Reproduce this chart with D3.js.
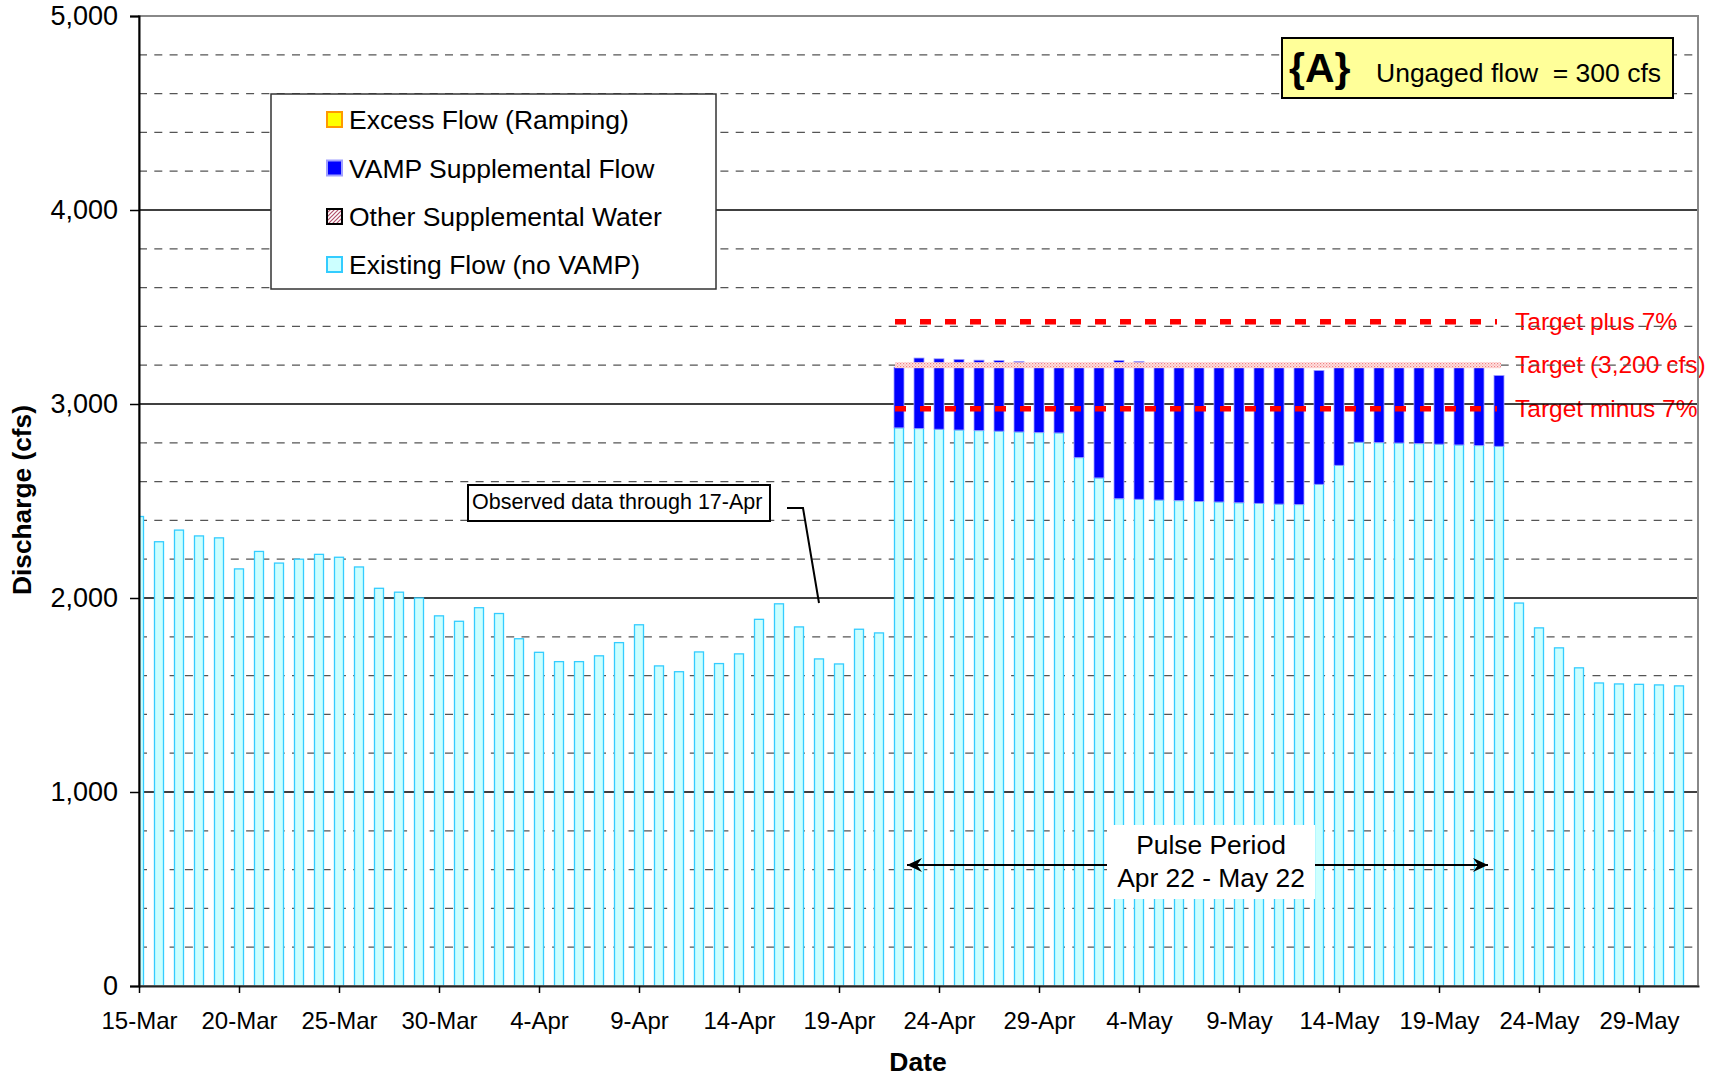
<!DOCTYPE html>
<html><head><meta charset="utf-8">
<script src="https://cdn.jsdelivr.net/npm/d3@7"></script>
<style>
html,body{margin:0;padding:0;background:#fff;}
svg{display:block;font-family:"Liberation Sans",Arial,Helvetica,sans-serif;}
</style></head><body>
<svg id="chart" width="1714" height="1077"></svg>
<script>
// ---------------- DATA ----------------
const startDay = "15-Mar-2008";
const endDay = "1-Jun-2008";
const tickLabels = ["15-Mar","20-Mar","25-Mar","30-Mar","4-Apr","9-Apr","14-Apr","19-Apr",
  "24-Apr","29-Apr","4-May","9-May","14-May","19-May","24-May","29-May"];
const yTicks = [0, 1000, 2000, 3000, 4000, 5000];

// Existing Flow (no VAMP), one value per day from 15-Mar to 31-May
const existingFlow = [
  2420, 2290, 2350, 2320, 2310, 2150, 2240, 2180, 2200, 2225,
  2210, 2160, 2050, 2030, 2000, 1908, 1880, 1950, 1920, 1790,
  1720, 1672, 1672, 1702, 1770, 1862, 1650, 1620, 1722, 1662,
  1712, 1890, 1970, 1851, 1686, 1660, 1839, 1820, 2877, 2874,
  2870, 2866, 2863, 2860, 2856, 2853, 2851, 2724, 2619, 2512,
  2509, 2505, 2502, 2498, 2495, 2491, 2488, 2484, 2482, 2586,
  2684, 2803, 2801, 2799, 2796, 2793, 2789, 2786, 2782, 1974,
  1846, 1743, 1640, 1562, 1557, 1555, 1552, 1547
];
// VAMP Supplemental Flow, pulse period 22-Apr .. 22-May
const pulseStart = "22-Apr-2008";
const pulseEnd = "22-May-2008";
const vampFlow = [
  313, 363, 363, 364, 363, 364, 363, 359, 349, 476,
  581, 712, 710, 707, 698, 702, 705, 709, 712, 716,
  718, 587, 516, 397, 399, 401, 404, 407, 411, 414,
  365
];
const seriesNames = ["Excess Flow (Ramping)", "VAMP Supplemental Flow", "Other Supplemental Water", "Existing Flow (no VAMP)"];
const targetFlow = 3200;
const targetPlus = 3424;
const targetMinus = 2976;
const targetLabels = ["Target plus 7%", "Target (3,200 cfs)", "Target minus 7%"];

// ---------------- CHART ----------------
const svg = d3.select("#chart");
const L = 139, R = 1698, T = 16, B = 986;
const parse = d3.timeParse("%d-%b-%Y");
const d0 = parse(startDay), d1 = parse(endDay);
const x = d3.scaleTime().domain([d0, d1]).range([L, R + 1]);
const y = d3.scaleLinear().domain([0, 5000]).range([B, T]);

const defs = svg.append("defs");
defs.append("clipPath").attr("id", "plotclip").append("rect")
  .attr("x", L).attr("y", T).attr("width", R - L).attr("height", B - T);
const pat = defs.append("pattern").attr("id", "pinkhatch").attr("patternUnits", "userSpaceOnUse")
  .attr("width", 3).attr("height", 3);
pat.append("rect").attr("width", 3).attr("height", 3).attr("fill", "#FFE4E4");
pat.append("rect").attr("x", 0).attr("y", 0).attr("width", 1.2).attr("height", 1.2).attr("fill", "#F08080");
pat.append("rect").attr("x", 1.5).attr("y", 1.5).attr("width", 1.2).attr("height", 1.2).attr("fill", "#F4A0A0");
const pat2 = defs.append("pattern").attr("id", "diaghatch").attr("patternUnits", "userSpaceOnUse")
  .attr("width", 4).attr("height", 4);
pat2.append("rect").attr("width", 4).attr("height", 4).attr("fill", "#fff");
pat2.append("path").attr("d", "M-1,1 L1,-1 M0,4 L4,0 M3,5 L5,3").attr("stroke", "#B0506A").attr("stroke-width", 1.2);
const mk = defs.append("marker").attr("id", "arrowhead").attr("viewBox", "-16 -8 17 16")
  .attr("refX", 0).attr("refY", 0).attr("markerWidth", 17).attr("markerHeight", 16)
  .attr("markerUnits", "userSpaceOnUse").attr("orient", "auto");
mk.append("path").attr("d", "M0,0 L-15,-7 L-10,0 L-15,7 Z").attr("fill", "#000");

// target labels (drawn under gridlines)
const tl = svg.append("g").attr("fill", "#FF0000").attr("font-size", 24.5);
[targetPlus, targetFlow, targetMinus].forEach((v, i) => {
  tl.append("text").attr("x", 1515).attr("y", y(v) + 8).text(targetLabels[i]);
});

// gridlines
const grid = svg.append("g");
d3.range(200, 5001, 200).forEach(v => {
  const major = v % 1000 === 0;
  grid.append("line").attr("x1", L).attr("x2", R).attr("y1", y(v)).attr("y2", y(v))
    .attr("stroke", major ? "#000" : "#555").attr("stroke-width", 1.3)
    .attr("stroke-dasharray", major ? null : "8,7.3");
});

// bars
const bw = 9;
const days = existingFlow.map((v, i) => ({ date: d3.timeDay.offset(d0, i), existing: v }));
const pStart = parse(pulseStart);
const pulse = vampFlow.map((v, i) => {
  const dt = d3.timeDay.offset(pStart, i);
  const idx = d3.timeDay.count(d0, dt);
  return { date: dt, base: existingFlow[idx], vamp: v };
});
const bars = svg.append("g").attr("clip-path", "url(#plotclip)");
bars.selectAll("rect.exist").data(days).join("rect").attr("class", "exist")
  .attr("x", d => x(d.date) - bw / 2).attr("width", bw)
  .attr("y", d => y(d.existing)).attr("height", d => y(0) - y(d.existing))
  .attr("fill", "#CCFFFF").attr("stroke", "#33CCFF").attr("stroke-width", 1.3);
bars.selectAll("rect.vamp").data(pulse).join("rect").attr("class", "vamp")
  .attr("x", d => x(d.date) - bw / 2 - 0.5).attr("width", bw + 1)
  .attr("y", d => y(d.base + d.vamp)).attr("height", d => y(d.base) - y(d.base + d.vamp))
  .attr("fill", "#0000FF").attr("stroke", "#A0A0FF").attr("stroke-width", 0.8);

// target band & lines
const xs = x(pStart) - 4, xe = x(parse(pulseEnd)) + 2;
svg.append("rect").attr("x", xs).attr("width", xe - xs).attr("y", y(targetFlow) - 3).attr("height", 6)
  .attr("fill", "url(#pinkhatch)");
[targetPlus, targetMinus].forEach(v => {
  svg.append("line").attr("x1", xs).attr("x2", xe - 4).attr("y1", y(v)).attr("y2", y(v))
    .attr("stroke", "#FF0000").attr("stroke-width", 5.5).attr("stroke-dasharray", "11,14");
});

// plot border
svg.append("rect").attr("x", L).attr("y", T).attr("width", R - L).attr("height", B - T)
  .attr("fill", "none").attr("stroke", "#888").attr("stroke-width", 2);

// axes
const yAxis = d3.axisLeft(y).tickValues(yTicks).tickFormat(d3.format(",")).tickSize(9).tickPadding(12);
const gy = svg.append("g").attr("transform", `translate(${L},0)`).call(yAxis);
gy.select(".domain").attr("stroke", "#000").attr("stroke-width", 2);
gy.selectAll(".tick line").attr("stroke", "#000").attr("stroke-width", 1.5);
gy.selectAll(".tick text").attr("font-size", 27).attr("fill", "#000")
  .attr("font-family", '"Liberation Sans",Arial,sans-serif');

const tickDates = tickLabels.map(s => parse(s + "-2008"));
const xAxis = d3.axisBottom(x).tickValues(tickDates).tickFormat(d3.timeFormat("%-d-%b")).tickSize(7).tickPadding(19).tickSizeOuter(0);
const gx = svg.append("g").attr("transform", `translate(0,${B})`).call(xAxis);
gx.select(".domain").attr("stroke", "#222").attr("stroke-width", 2);
gx.selectAll(".tick line").attr("stroke", "#000").attr("stroke-width", 1.5);
gx.selectAll(".tick text").attr("font-size", 24).attr("fill", "#000")
  .attr("font-family", '"Liberation Sans",Arial,sans-serif');

// axis titles
svg.append("text").attr("transform", "translate(31,500) rotate(-90)").attr("text-anchor", "middle")
  .attr("font-weight", "bold").attr("font-size", 26.3).text("Discharge (cfs)");
svg.append("text").attr("x", 918).attr("y", 1071).attr("text-anchor", "middle")
  .attr("font-weight", "bold").attr("font-size", 26.5).text("Date");

// legend
const lg = svg.append("g");
lg.append("rect").attr("x", 271).attr("y", 94).attr("width", 445).attr("height", 195)
  .attr("fill", "#fff").attr("stroke", "#333").attr("stroke-width", 1.5);
const legStyles = [
  { fill: "#FFFF00", stroke: "#FF9900" },
  { fill: "#0000FF", stroke: "#A0A0FF" },
  { fill: "url(#diaghatch)", stroke: "#000" },
  { fill: "#CCFFFF", stroke: "#33CCFF" }
];
const rowY = [120, 168.5, 217, 265];
seriesNames.forEach((n, i) => {
  lg.append("rect").attr("x", 327).attr("y", rowY[i] - 8).attr("width", 15).attr("height", 15)
    .attr("fill", legStyles[i].fill).attr("stroke", legStyles[i].stroke).attr("stroke-width", 2);
  lg.append("text").attr("x", 349).attr("y", rowY[i] + 9).attr("font-size", 26.5).text(n);
});

// {A} box
const ab = svg.append("g");
ab.append("rect").attr("x", 1282).attr("y", 38).attr("width", 391).attr("height", 60)
  .attr("fill", "#FFFF99").attr("stroke", "#000").attr("stroke-width", 2);
ab.append("text").attr("x", 1289).attr("y", 82).attr("font-size", 41).attr("font-weight", "bold").text("{A}");
ab.append("text").attr("x", 1376).attr("y", 82).attr("font-size", 26.5).style("white-space", "pre")
  .text("Ungaged flow  = 300 cfs");

// observed note
const ob = svg.append("g");
ob.append("rect").attr("x", 468).attr("y", 485).attr("width", 302).attr("height", 36)
  .attr("fill", "#fff").attr("stroke", "#000").attr("stroke-width", 2);
ob.append("text").attr("x", 472).attr("y", 509).attr("font-size", 21.5).text("Observed data through 17-Apr");
ob.append("path").attr("d", "M787,508 L803,508 L819,603").attr("fill", "none")
  .attr("stroke", "#000").attr("stroke-width", 2);

// pulse period
const pp = svg.append("g");
pp.append("line").attr("x1", 1107).attr("x2", x(pStart) + 8).attr("y1", 865).attr("y2", 865)
  .attr("stroke", "#000").attr("stroke-width", 2).attr("marker-end", "url(#arrowhead)");
pp.append("line").attr("x1", 1315).attr("x2", x(parse(pulseEnd)) - 11).attr("y1", 865).attr("y2", 865)
  .attr("stroke", "#000").attr("stroke-width", 2).attr("marker-end", "url(#arrowhead)");
pp.append("rect").attr("x", 1107).attr("y", 825).attr("width", 208).attr("height", 74).attr("fill", "#fff");
pp.append("text").attr("x", 1211).attr("y", 854).attr("text-anchor", "middle").attr("font-size", 26.4).text("Pulse Period");
pp.append("text").attr("x", 1211).attr("y", 887).attr("text-anchor", "middle").attr("font-size", 26.4).text("Apr 22 - May 22");
</script>
</body></html>
